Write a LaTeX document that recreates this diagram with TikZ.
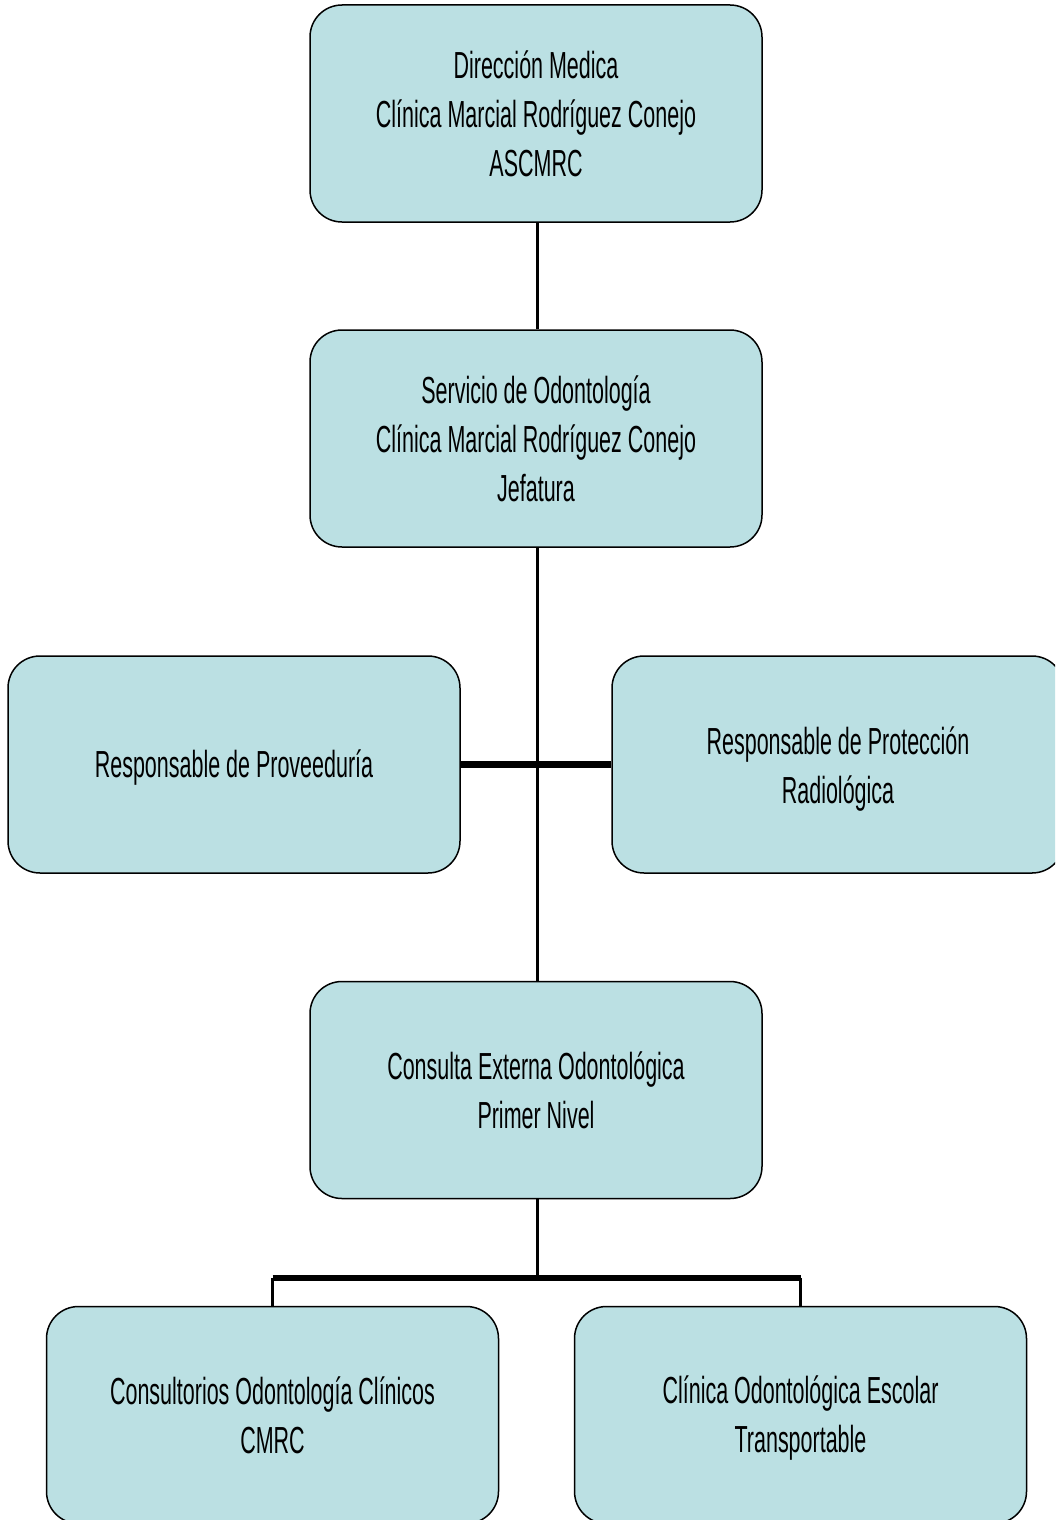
\documentclass[tikz,border=0pt]{standalone}
\usepackage{fontspec}
\setmainfont{Liberation Sans}[FakeStretch=0.57]
\definecolor{boxfill}{HTML}{BBE0E3}
\begin{document}
\begin{tikzpicture}[x=1pt,y=-1pt,
  orgbox/.style={draw=black, line width=1.5pt, fill=boxfill, rounded corners=32pt,
    minimum width=452pt, minimum height=217pt, inner sep=0pt},
  boxtext/.style={inner sep=0pt, align=center, font=\fontsize{37.7}{49}\selectfont},
  thinlink/.style={line width=3pt},
  thicklink/.style={line width=6.5pt},
  droplink/.style={line width=2.2pt}]
\clip (0,0) rectangle (1055,1520);
\fill[white] (0,0) rectangle (1055,1520);
\node[orgbox] (dir) at (536,113.5) {};
\node[boxtext] (dirt) at (dir.center) {Dirección Medica\\Clínica Marcial Rodríguez Conejo\\ASCMRC};
\node[orgbox] (serv) at (536,438.5) {};
\node[boxtext] (servt) at (serv.center) {Servicio de Odontología\\Clínica Marcial Rodríguez Conejo\\Jefatura};
\node[orgbox] (prov) at (234,764.5) {};
\node[boxtext, yshift=-3pt] (provt) at (prov.center) {Responsable de Proveeduría};
\node[orgbox] (prot) at (838,764.5) {};
\node[boxtext, yshift=-4.5pt] (prott) at (prot.center) {Responsable de Protección\\Radiológica};
\node[orgbox] (cons) at (536,1090) {};
\node[boxtext] (const) at (cons.center) {Consulta Externa Odontológica\\Primer Nivel};
\node[orgbox] (bl) at (272.5,1415) {};
\node[boxtext] (blt) at (bl.center) {Consultorios Odontología Clínicos\\CMRC};
\node[orgbox] (br) at (800.5,1415) {};
\node[boxtext, yshift=-3.5pt] (brt) at (br.center) {Clínica Odontológica Escolar\\Transportable};
\coordinate (j) at (537,1278);
\draw[thinlink] (dir.south -| j) -- (serv.north -| j);
\draw[thinlink] (serv.south -| j) -- (cons.north -| j);
\draw[thicklink] (prov.east) -- (prot.west);
\draw[thinlink] (cons.south -| j) -- (j);
\draw[thicklink] (bl.north |- j) -- (br.north |- j);
\draw[droplink] (bl.north |- j) -- (bl.north);
\draw[droplink] (br.north |- j) -- (br.north);
\end{tikzpicture}
\end{document}
